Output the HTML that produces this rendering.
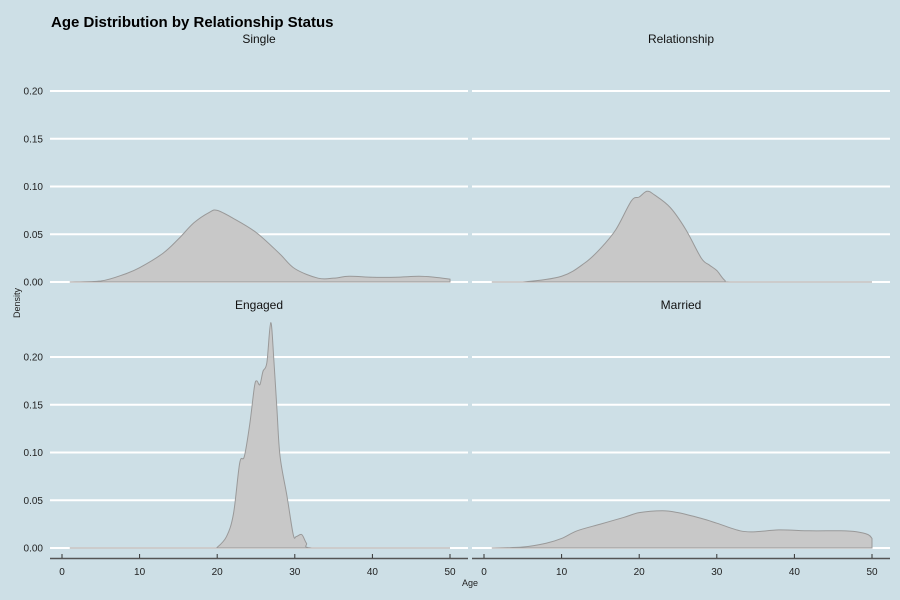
<!DOCTYPE html>
<html><head><meta charset="utf-8"><style>
body{margin:0;background:#cddfe6;}
svg{display:block;font-family:"Liberation Sans",sans-serif;}
</style></head><body>
<svg id="c" width="900" height="600"></svg>
<script>
const panels=["Single","Relationship","Engaged","Married"];
const singleAge=[1,5,8,10,13,15,17,19,20,22,25,28,30,33,35,37,40,43,46,48,50];
const singleDen=[0,0.001,0.008,0.015,0.03,0.045,0.062,0.073,0.075,0.067,0.052,0.03,0.014,0.004,0.004,0.006,0.005,0.005,0.006,0.005,0.003];
const relAge=[1,5,10,13,15,17,19,20,21,22,24,26,28,29,30,31,32,40,50];
const relDen=[0,0,0.006,0.02,0.035,0.055,0.085,0.089,0.095,0.091,0.078,0.055,0.025,0.018,0.012,0.002,0,0,0];
const engAge=[1,19.5,19.9,21.2,22.1,22.9,23.5,24.2,24.8,25.1,25.5,25.9,26.4,26.9,27.3,27.7,28.1,29.0,29.8,30.2,30.9,31.5,32.2,40,50];
const engDen=[0,0,0,0.012,0.036,0.089,0.096,0.13,0.169,0.175,0.171,0.185,0.194,0.236,0.197,0.145,0.096,0.054,0.014,0.012,0.014,0.005,0,0,0];
const marAge=[1,5,8,10,12,15,18,20,23,25,28,30,33,35,38,42,46,48,49.5,50];
const marDen=[0,0.001,0.005,0.01,0.018,0.025,0.032,0.037,0.039,0.037,0.031,0.026,0.018,0.017,0.019,0.018,0.018,0.017,0.014,0.01];
const series=[[singleAge,singleDen],[relAge,relDen],[engAge,engDen],[marAge,marDen]];
const yTicks=[0,0.05,0.1,0.15,0.2];
const xTicks=[0,10,20,30,40,50];
const NS="http://www.w3.org/2000/svg";
const svg=document.getElementById('c');
function mk(t,a,p){const e=document.createElementNS(NS,t);for(const k in a)e.setAttribute(k,a[k]);(p||svg).appendChild(e);return e;}
const geo=[{x0:50,x1:468,px0:62,y0:282,top:50,bot:292},{x0:472,x1:890,px0:484,y0:282,top:50,bot:292},
 {x0:50,x1:468,px0:62,y0:548,top:316,bot:558},{x0:472,x1:890,px0:484,y0:548,top:316,bot:558}];
const t=mk('text',{x:51,y:27,'font-size':15,'font-weight':'bold',fill:'#000'});t.textContent='Age Distribution by Relationship Status';


geo.forEach((g,i)=>{
 const xs=v=>g.px0+v*7.76, ys=v=>g.y0-v*955;
 const grp=mk('g',{});
 
 
 const s=mk('text',{x:(g.x0+g.x1)/2,y:g.top-7,'text-anchor':'middle','font-size':12,fill:'#111'},grp);s.textContent=panels[i];
 
 
 yTicks.forEach(v=>{
  const l=mk('line',{x1:g.x0,x2:g.x1,y1:ys(v),y2:ys(v),stroke:'#fff','stroke-width':2},grp);
  
  
  if(i%2==0){const tx=mk('text',{x:43,y:ys(v)+3.5,'text-anchor':'end','font-size':10,fill:'#222'},grp);tx.textContent=v.toFixed(2);
   
   }
 });
 const [ax,dy]=series[i];
 const P=ax.map((a,k)=>[xs(a),ys(dy[k])]);
 let d='M'+P[0][0]+','+g.y0+' L'+P[0][0]+','+P[0][1];
 for(let k=0;k<P.length-1;k++){
  const p0=P[Math.max(0,k-1)],p1=P[k],p2=P[k+1],p3=P[Math.min(P.length-1,k+2)];
  let c1y=p1[1]+(p2[1]-p0[1])/6,c2y=p2[1]-(p3[1]-p1[1])/6;
  c1y=Math.min(c1y,g.y0);c2y=Math.min(c2y,g.y0);
  d+=` C${p1[0]+(p2[0]-p0[0])/6},${c1y} ${p2[0]-(p3[0]-p1[0])/6},${c2y} ${p2[0]},${p2[1]}`;
 }
 d+=' L'+P[P.length-1][0]+','+g.y0+' Z';
 const a=mk('path',{d:d,fill:'#c8c8c8',stroke:'#999','stroke-width':1},grp);
 
 
 if(i>=2){
  const al=mk('line',{x1:g.x0,x2:g.x1,y1:558.5,y2:558.5,stroke:'#555','stroke-width':1.5},grp);
  
  
  xTicks.forEach(v=>{
   const tk=mk('line',{x1:xs(v),x2:xs(v),y1:554,y2:558,stroke:'#333'},grp);
   
   
   const tl=mk('text',{x:xs(v),y:575,'text-anchor':'middle','font-size':10,fill:'#222'},grp);tl.textContent=v;
   
   
  });
 }
});
const xt=mk('text',{x:470,y:586,'text-anchor':'middle','font-size':9,fill:'#222'});xt.textContent='Age';


const yt=mk('text',{x:20,y:303,'text-anchor':'middle','font-size':9,fill:'#222',transform:'rotate(-90 20 303)'});yt.textContent='Density';


</script>
</body></html>
